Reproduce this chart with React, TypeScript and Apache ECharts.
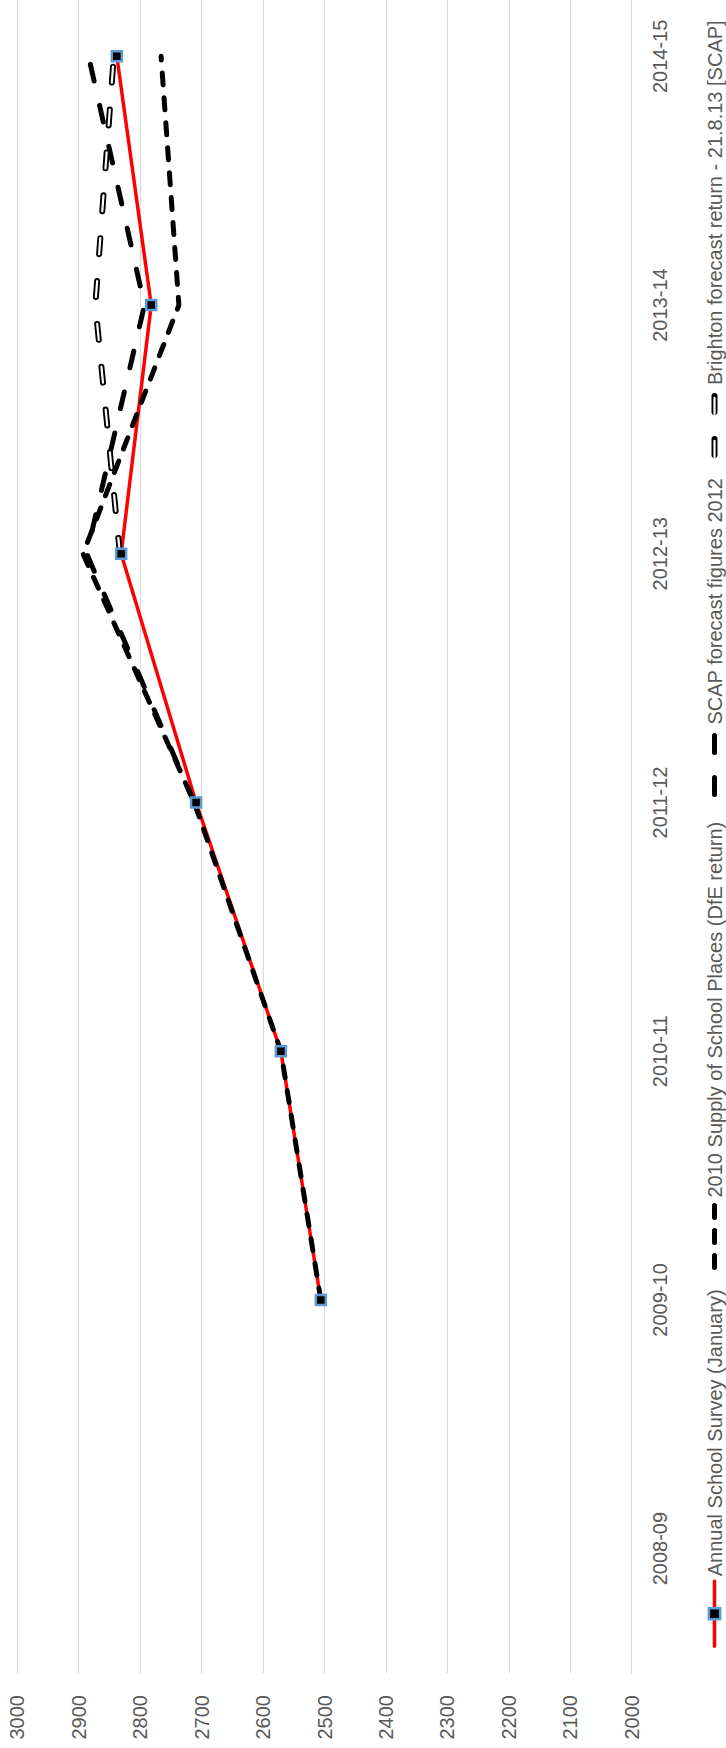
import React, { useEffect, useRef } from 'react';
import * as echarts from 'echarts';

const categories = ['2008-09', '2009-10', '2010-11', '2011-12', '2012-13', '2013-14', '2014-15'];
const annualSurvey = [null, 2506, 2571, 2709, 2831, 2782, 2838];
const supply2010 = [null, 2506, 2571, 2712, 2893, 2737, 2766];
const scap2012 = [null, null, null, 2712, 2887, 2793, 2884];
const brighton = [null, null, null, null, 2833, 2873, 2843];

const seriesNames = [
  'Annual School Survey (January)',
  '2010 Supply of School Places (DfE return)',
  'SCAP forecast figures 2012',
  'Brighton forecast return - 21.8.13 [SCAP]',
];
const innerName = 'Brighton inner';

const valueMin = 2000;
const valueMax = 3000;
const valueStep = 100;

const FONT = '"Liberation Sans", Arial, sans-serif';
const GREY = '#595959';
const GRID = '#D9D9D9';
const W = 1816;
const H = 726;

const dashSupply = [12, 13];
const dashScap = [17, 25];
const dashBrighton = [16, 27];

function legendFor(name: string, left: number, lineStyle: any, itemStyle: any, showText = true, z = 4) {
  return {
    data: [name],
    left,
    top: 704.5,
    orient: 'horizontal',
    padding: 0,
    itemWidth: 65,
    itemHeight: 14,
    selectedMode: false,
    z,
    textStyle: { color: GREY, fontSize: 20, fontFamily: FONT, lineHeight: 14 },
    lineStyle,
    itemStyle,
    formatter: showText ? (n: string) => n : () => ' ',
  };
}

export default function App() {
  const ref = useRef<HTMLDivElement>(null);
  useEffect(() => {
    const chart = echarts.init(ref.current!, null, { renderer: 'svg', width: W, height: H });
    chart.setOption({
      animation: false,
      backgroundColor: '#ffffff',
      grid: { left: 75, right: 0, top: 17.3, bottom: 94.3, containLabel: false },
      xAxis: {
        type: 'category',
        data: categories,
        boundaryGap: true,
        axisTick: { show: false },
        axisLine: { show: true, lineStyle: { color: GRID, width: 1 } },
        axisLabel: { color: GREY, fontSize: 20, fontFamily: FONT, margin: 18 },
        splitLine: { show: false },
      },
      yAxis: {
        type: 'value',
        min: valueMin,
        max: valueMax,
        interval: valueStep,
        axisLine: { show: false },
        axisTick: { show: false },
        axisLabel: {
          color: GREY,
          fontSize: 20,
          fontFamily: FONT,
          margin: 22,
          formatter: (v: number) => String(v),
        },
        splitLine: { show: true, lineStyle: { color: GRID, width: 1 } },
      },
      legend: [
        legendFor(seriesNames[0], 100, { color: '#FF0000', width: 3.5, type: 'solid', cap: 'round' },
          { color: '#000000', borderColor: '#5B9BD5', borderWidth: 2.5 }),
        legendFor(seriesNames[1], 478, { color: '#000000', width: 5, type: dashSupply, cap: 'round' },
          { opacity: 0 }),
        legendFor(seriesNames[2], 951, { color: '#000000', width: 5, type: dashScap, cap: 'round' },
          { opacity: 0 }),
        legendFor(seriesNames[3], 1290, { color: '#000000', width: 6, type: dashBrighton, cap: 'round' },
          { opacity: 0 }),
        legendFor(innerName, 1290, { color: '#ffffff', width: 2.2, type: dashBrighton, cap: 'round' },
          { opacity: 0 }, false, 10),
      ],
      series: [
        {
          name: seriesNames[0],
          type: 'line',
          data: annualSurvey,
          symbol: 'rect',
          symbolSize: 10,
          showSymbol: true,
          lineStyle: { color: '#FF0000', width: 3.5, cap: 'round', join: 'round' },
          itemStyle: { color: '#000000', borderColor: '#5B9BD5', borderWidth: 2.5 },
        },
        {
          name: seriesNames[1],
          type: 'line',
          data: supply2010,
          symbol: 'none',
          lineStyle: { color: '#000000', width: 5, type: dashSupply, cap: 'round', join: 'round' },
          itemStyle: { color: '#000000' },
        },
        {
          name: seriesNames[2],
          type: 'line',
          data: scap2012,
          symbol: 'none',
          lineStyle: { color: '#000000', width: 5, type: dashScap, cap: 'round', join: 'round' },
          itemStyle: { color: '#000000' },
        },
        {
          name: seriesNames[3],
          type: 'line',
          data: brighton,
          symbol: 'none',
          lineStyle: { color: '#000000', width: 6, type: dashBrighton, cap: 'round', join: 'round' },
          itemStyle: { color: '#000000' },
        },
        {
          name: innerName,
          type: 'line',
          data: brighton,
          symbol: 'none',
          lineStyle: { color: '#ffffff', width: 2.2, type: dashBrighton, cap: 'round', join: 'round' },
          itemStyle: { color: '#ffffff' },
        },
      ],
    });
    return () => chart.dispose();
  }, []);

  return (
    <div
      style={{
        position: 'absolute',
        left: 0,
        top: 0,
        width: 726,
        height: 1748,
        overflow: 'hidden',
        background: '#ffffff',
      }}
    >
      <div
        ref={ref}
        style={{
          position: 'absolute',
          left: 0,
          top: 0,
          width: W,
          height: H,
          transformOrigin: '0 0',
          transform: 'translate(0px, 1748px) rotate(-90deg)',
        }}
      />
    </div>
  );
}
